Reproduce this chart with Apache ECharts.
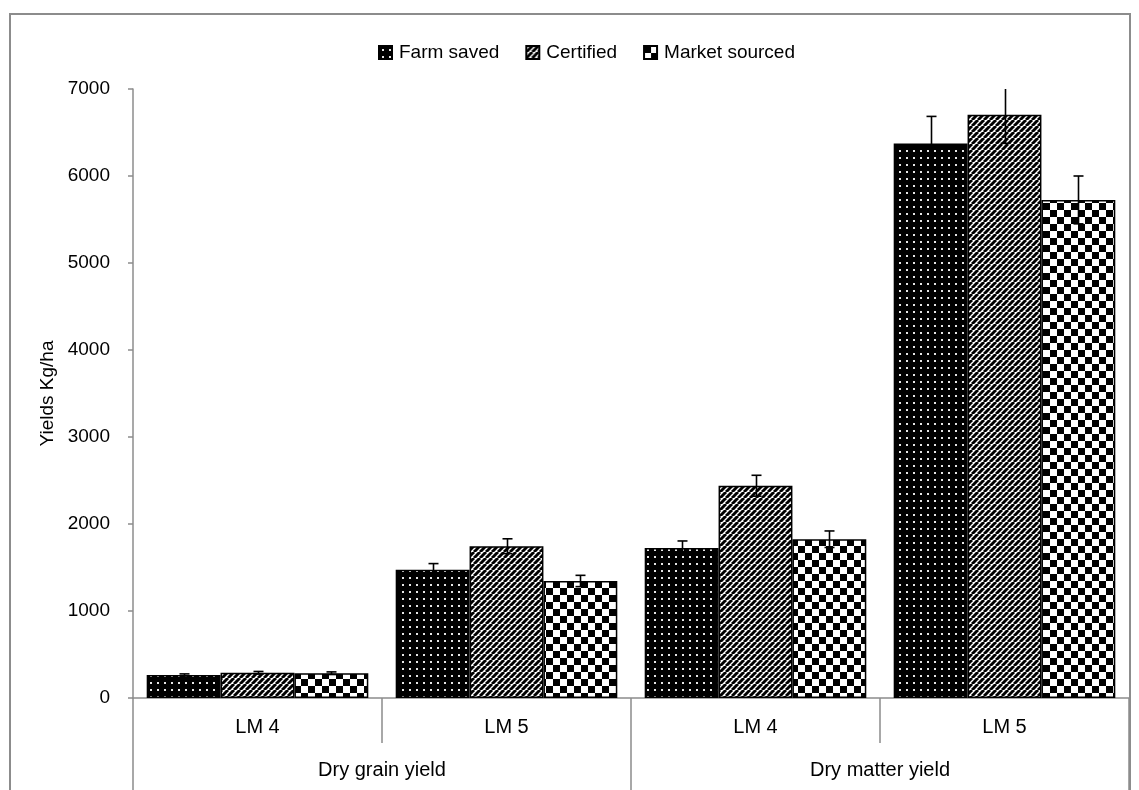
<!DOCTYPE html>
<html>
<head>
<meta charset="utf-8">
<title>Yields</title>
<script src="https://cdn.jsdelivr.net/npm/echarts@6/dist/echarts.min.js"></script>
<style>
    html,body{margin:0;padding:0;background:#fff;}
    #main{width:1139px;height:790px;}
</style>
</head>
<body>
<div id="main"></div>
<script>
// data
var categories = ['LM 4', 'LM 5', 'LM 4', 'LM 5'];
var groups = ['Dry grain yield', 'Dry matter yield'];
var seriesNames = ['Farm saved', 'Certified', 'Market sourced'];
var farmSaved = [265, 1475, 1725, 6375];
var certified = [290, 1745, 2440, 6705];
var marketSourced = [285, 1345, 1825, 5725];
var farmErr = [12, 70, 80, 310];
var certErr = [15, 85, 120, 330];
var marketErr = [15, 65, 95, 275];
var yTicks = [0, 7000, 1000]; // min, max, step

var FONT = "'Liberation Sans', Arial, sans-serif";
var GAP = 0.11;

/* fill patterns */
function tile(w, h, draw){
    var c = document.createElement('canvas');
    c.width = w; c.height = h;
    draw(c.getContext('2d'), w, h);
    return {image: c, repeat: 'repeat'};
}
var dots = tile(7, 7, function(g, w, h){
    g.fillStyle = '#000'; g.fillRect(0, 0, w, h);
    g.fillStyle = '#e6e6e6'; g.fillRect(3, 3, 2, 2);
});
var stripes = tile(6, 6, function(g, p){
    g.fillStyle = '#fff'; g.fillRect(0, 0, p, p);
    g.strokeStyle = '#000'; g.lineWidth = 3;
    for(var k=-1;k<=1;k++){
        g.beginPath(); g.moveTo(k*p, p); g.lineTo(k*p+p, 0); g.stroke();
    }
});
var checks = tile(14, 14, function(g){
    g.fillStyle = '#fff'; g.fillRect(0, 0, 14, 14);
    g.fillStyle = '#000'; g.fillRect(0, 0, 7, 7); g.fillRect(7, 7, 7, 7);
});
var fills = [dots, stripes, checks];

function errData(vals, errs){
    var out = [];
    for(var i=0;i<vals.length;i++){ out.push([i, vals[i], errs[i]]); }
    return out;
}
function errRender(idx){
    return function(params, api){
        var v = api.value(1), e = api.value(2), i = api.value(0);
        var hi = api.coord([i, v + e]), lo = api.coord([i, v - e]);
        var band = api.size([1, 0])[0];
        var bw = band * (1 - GAP) / 3;
        var cx = Math.round(hi[0] + (idx - 1) * bw) + 0.5;
        var st = {stroke: '#000', lineWidth: 1.6};
        return {
            type: 'group',
            children: [
                {type: 'line', shape: {x1: cx, y1: hi[1], x2: cx, y2: lo[1]}, style: st},
                {type: 'line', shape: {x1: cx - 5, y1: hi[1], x2: cx + 5, y2: hi[1]}, style: st},
                {type: 'line', shape: {x1: cx - 5, y1: lo[1], x2: cx + 5, y2: lo[1]}, style: st}
            ]
        };
    };
}

var barVals = [farmSaved, certified, marketSourced];
var errVals = [farmErr, certErr, marketErr];
var series = [];
for(var s=0;s<3;s++){
    series.push({
        name: seriesNames[s],
        type: 'bar',
        barGap: '0%',
        barCategoryGap: (GAP*100) + '%',
        itemStyle: {color: fills[s], borderColor: '#000', borderWidth: 1.5},
        data: barVals[s]
    });
}
for(var s2=0;s2<3;s2++){
    series.push({
        name: seriesNames[s2] + ' err',
        type: 'custom',
        clip: true,
        z: 5,
        renderItem: errRender(s2),
        encode: {x: 0, y: 1},
        data: errData(barVals[s2], errVals[s2])
    });
}

var option = {
    animation: false,
    backgroundColor: '#fff',
    textStyle: {fontFamily: FONT},
    legend: {
        data: seriesNames,
        left: 373,
        top: 38,
        icon: 'rect',
        itemWidth: 13,
        itemHeight: 13,
        itemGap: 26,
        textStyle: {fontSize: 19, color: '#000', fontFamily: FONT, padding: [0, 0, 0, 2]}
    },
    grid: {left: 133, right: 10, top: 89, bottom: 92},
    xAxis: [
        {
            type: 'category',
            data: categories,
            axisLine: {show: true, lineStyle: {color: '#8c8c8c', width: 1.5}},
            axisTick: {show: true, interval: 0, alignWithLabel: false, length: 45, lineStyle: {color: '#8c8c8c', width: 1.5}},
            axisLabel: {fontSize: 20, color: '#000', margin: 19, fontFamily: FONT}
        },
        {
            type: 'category',
            data: groups,
            position: 'bottom',
            axisLine: {show: false},
            axisTick: {show: true, interval: 0, alignWithLabel: false, length: 93, lineStyle: {color: '#8c8c8c', width: 1.5}},
            axisLabel: {fontSize: 20, color: '#000', margin: 62, fontFamily: FONT}
        }
    ],
    yAxis: {
        type: 'value',
        min: yTicks[0],
        max: yTicks[1],
        interval: yTicks[2],
        name: 'Yields Kg/ha',
        nameLocation: 'middle',
        nameGap: 76,
        nameTextStyle: {fontSize: 19, color: '#000', fontFamily: FONT},
        splitLine: {show: false},
        axisLine: {show: true, lineStyle: {color: '#8c8c8c', width: 1.5}},
        axisTick: {show: true, length: 5, lineStyle: {color: '#8c8c8c', width: 1.5}},
        axisLabel: {fontSize: 19, color: '#000', margin: 23, fontFamily: FONT,
            formatter: function(v){ return String(v); }}
    },
    graphic: [
        {
            type: 'rect',
            silent: true,
            shape: {x: 10, y: 14, width: 1120, height: 800},
            style: {fill: 'none', stroke: '#8c8c8c', lineWidth: 2}
        }
    ],
    series: series
};

var myChart = echarts.init(document.getElementById('main'));
myChart.setOption(option);
</script>
</body>
</html>
